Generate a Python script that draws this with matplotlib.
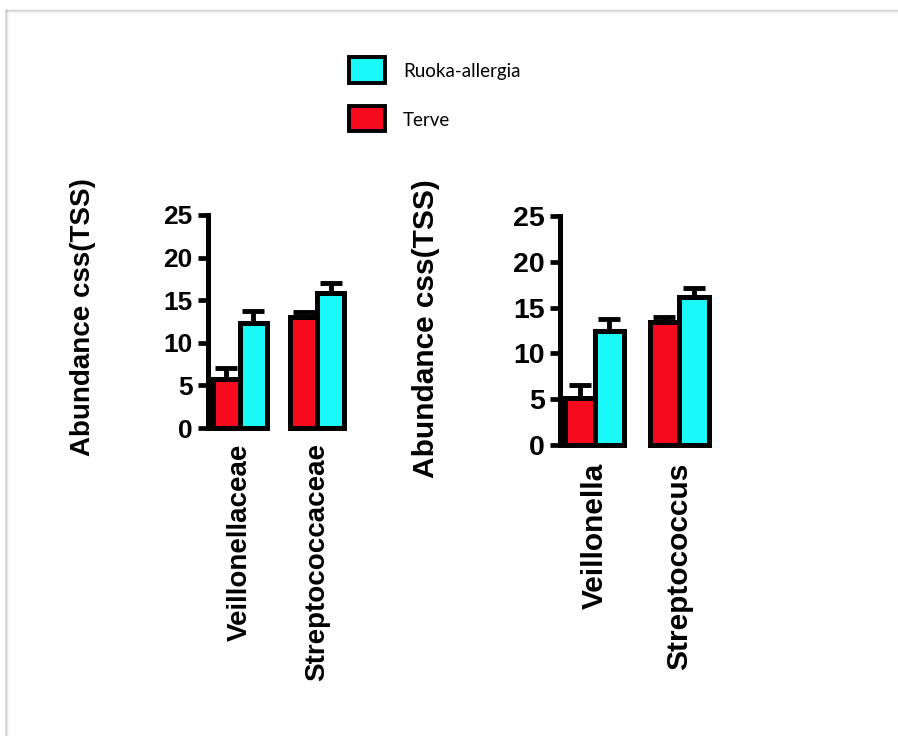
import matplotlib.pyplot as plt
from matplotlib.patches import Rectangle
from matplotlib.lines import Line2D
import numpy as np

# data
families = ['Veillonellaceae', 'Streptococcaceae']
family_terve = [5.7, 13.0]
family_terve_err = [1.3, 0.6]
family_allergy = [12.3, 15.9]
family_allergy_err = [1.4, 1.1]

genera = ['Veillonella', 'Streptococcus']
genus_terve = [5.1, 13.4]
genus_terve_err = [1.4, 0.6]
genus_allergy = [12.5, 16.2]
genus_allergy_err = [1.3, 0.9]

yticks = [0, 5, 10, 15, 20, 25]
ylabel = 'Abundance css(TSS)'
legend_labels = ['Ruoka-allergia', 'Terve']

red = '#F50A1E'
cyan = '#1AF8F8'

W, H = 898, 736
plt.rcParams['font.family'] = 'Liberation Sans'
plt.rcParams['font.weight'] = 'bold'

fig = plt.figure(figsize=(W / 100, H / 100), dpi=100)


def px_axes(x0, x1, y0, y1):
    # pixel box (top-left origin) -> figure fraction
    return fig.add_axes([x0 / W, 1 - y1 / H, (x1 - x0) / W, (y1 - y0) / H])


def panel(ax, names, terve, terve_err, allergy, allergy_err,
          tick_fs, name_fs, label_fs, name_pad, label_xy):
    x = np.arange(len(names))
    w = 0.35
    ax.errorbar(x - w / 2, terve, yerr=[np.zeros(len(x)), terve_err], fmt='none',
                ecolor='black', elinewidth=3.5, capsize=8, capthick=3.5, zorder=1)
    ax.errorbar(x + w / 2, allergy, yerr=[np.zeros(len(x)), allergy_err], fmt='none',
                ecolor='black', elinewidth=3.5, capsize=8, capthick=3.5, zorder=1)
    ax.bar(x - w / 2, terve, w, color=red, edgecolor='black', linewidth=3.6,
           zorder=2, clip_on=False)
    ax.bar(x + w / 2, allergy, w, color=cyan, edgecolor='black', linewidth=3.6,
           zorder=2, clip_on=False)
    ax.set_xlim(-0.41, 1.39)
    ax.set_ylim(0, 25)
    ax.set_yticks(yticks)
    ax.set_xticks(x)
    ax.set_xticklabels(names, rotation=90, fontsize=name_fs, fontweight='bold')
    ax.tick_params(axis='x', length=0, pad=name_pad)
    ax.tick_params(axis='y', length=7, width=3.4, pad=4, labelsize=tick_fs)
    for t in ax.get_yticklabels():
        t.set_fontweight('bold')
    for s in ['top', 'right', 'bottom']:
        ax.spines[s].set_visible(False)
    ax.spines['left'].set_linewidth(3.6)
    ax.spines['left'].set_bounds(0, 25)
    ax.set_ylabel(ylabel, fontsize=label_fs, fontweight='bold')
    ax.yaxis.set_label_coords(*label_xy)
    ax.patch.set_alpha(0)


ax1 = px_axes(208, 347.5, 215, 428)
panel(ax1, families, family_terve, family_terve_err, family_allergy, family_allergy_err,
      tick_fs=19, name_fs=20, label_fs=20, name_pad=11, label_xy=(-0.80, 0.52))

ax2 = px_axes(560, 712, 216, 445)
panel(ax2, genera, genus_terve, genus_terve_err, genus_allergy, genus_allergy_err,
      tick_fs=20.5, name_fs=21.5, label_fs=21.5, name_pad=13, label_xy=(-0.79, 0.51))

# legend boxes drawn by hand, as in the picture
for (y0, y1), col, lab in zip([(57, 83), (106, 131)], [cyan, red], legend_labels):
    fig.add_artist(Rectangle((349 / W, 1 - y1 / H), 36 / W, (y1 - y0) / H,
                             transform=fig.transFigure, facecolor=col,
                             edgecolor='black', linewidth=2.8))
    fig.text(403 / W, 1 - ((y0 + y1) / 2 + 2) / H, lab, fontsize=13.5, fontweight='normal',
             family='Lato', ha='left', va='center')

# faint page frame with shadow
for i, a in enumerate([0.35, 0.18, 0.08]):
    fig.add_artist(Line2D([(6 + i) / W, 1], [1 - (10 + i) / H] * 2,
                          transform=fig.transFigure, color='#909090', alpha=a, lw=1))
    fig.add_artist(Line2D([(6 + i) / W] * 2, [0, 1 - (10 + i) / H],
                          transform=fig.transFigure, color='#909090', alpha=a, lw=1.2))

fig.savefig('out.png', dpi=100, facecolor='white')
